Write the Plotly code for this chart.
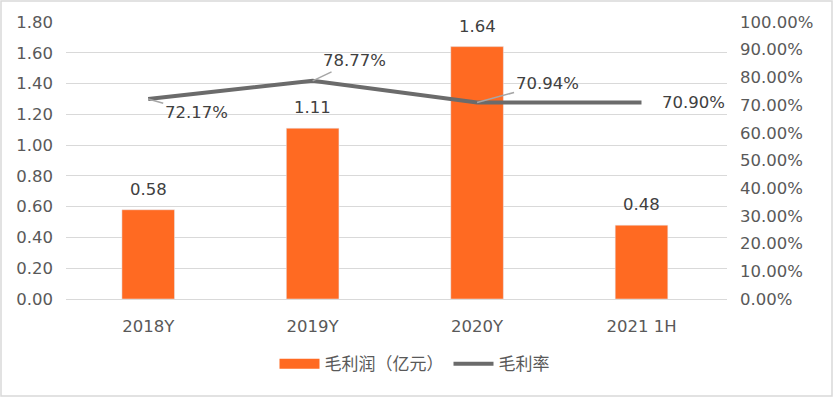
import plotly.graph_objects as go

categories = ["2018Y", "2019Y", "2020Y", "2021 1H"]
gross_profit = [0.58, 1.11, 1.64, 0.48]
gross_margin = [0.7217, 0.7877, 0.7094, 0.7090]
margin_labels = ["72.17%", "78.77%", "70.94%", "70.90%"]
bar_name = "毛利润（亿元）"
line_name = "毛利率"

FONT = "DejaVu Sans, Noto Sans CJK SC, sans-serif"
CJK_FONT = "Noto Sans CJK SC, sans-serif"
TXT = "#595959"
ORANGE = "#FF6A22"
GRAY = "#6b6b6b"
FS = 16.5

fig = go.Figure()
fig.add_trace(go.Bar(
    x=categories, y=gross_profit, name=bar_name,
    marker=dict(color=ORANGE), width=0.32, showlegend=False,
))
# legend-only entry giving a wide rectangular swatch for the bars
fig.add_trace(go.Scatter(
    x=[None], y=[None], name=bar_name, mode="lines",
    line=dict(color=ORANGE, width=13),
))
fig.add_trace(go.Scatter(
    x=categories, y=gross_margin, name=line_name, yaxis="y2",
    mode="lines", line=dict(color=GRAY, width=4),
))

for c, v in zip(categories, gross_profit):
    fig.add_annotation(
        x=c, y=v, text=f"{v:.2f}", showarrow=False, yanchor="bottom", yshift=9,
        font=dict(size=FS, color="#404040", family=FONT),
    )

offsets = [(48, 13, True), (42, -20, True), (70, -19, True), (52, 0, False)]
for c, v, lab, (ax, ay, arrow) in zip(categories, gross_margin, margin_labels, offsets):
    fig.add_annotation(
        x=c, y=v, yref="y2", text=lab, showarrow=arrow,
        ax=ax if arrow else 0, ay=ay if arrow else 0,
        xshift=0 if arrow else ax,
        arrowhead=0, arrowwidth=1.5, arrowcolor="#a6a6a6",
        font=dict(size=FS, color="#404040", family=FONT),
    )

fig.add_shape(type="rect", xref="paper", yref="paper",
              x0=-65/661, x1=766/661, y0=-97/277, y1=1 + 21/277,
              line=dict(color="#d9d9d9", width=1.5), layer="below")

fig.update_layout(
    width=834, height=398,
    margin=dict(l=66, r=107, t=22, b=99, autoexpand=False),
    paper_bgcolor="white", plot_bgcolor="white",
    font=dict(family=FONT, size=FS, color=TXT),
    showlegend=True,
    legend=dict(orientation="h", xref="container", x=0.497, xanchor="center",
                y=-0.17, yanchor="top",
                font=dict(size=17, color=TXT, family=CJK_FONT), itemwidth=40),
    xaxis=dict(showgrid=False, showline=True, linecolor="#d9d9d9", linewidth=1,
               ticks="", ticklabelstandoff=12, tickfont=dict(size=FS, color=TXT)),
    yaxis=dict(range=[0, 1.8], dtick=0.2, tickformat=".2f", showgrid=True,
               gridcolor="#d9d9d9", gridwidth=1, zeroline=False,
               ticks="", ticklabelstandoff=12, tickfont=dict(size=FS, color=TXT)),
    yaxis2=dict(range=[0, 1.0], dtick=0.1, tickformat=".2%", overlaying="y",
                side="right", showgrid=False, zeroline=False, ticks="",
                ticklabelstandoff=12, tickfont=dict(size=FS, color=TXT)),
)

fig.write_html("out.html", config={"displayModeBar": False},
               post_script="document.body.style.margin='0';")
